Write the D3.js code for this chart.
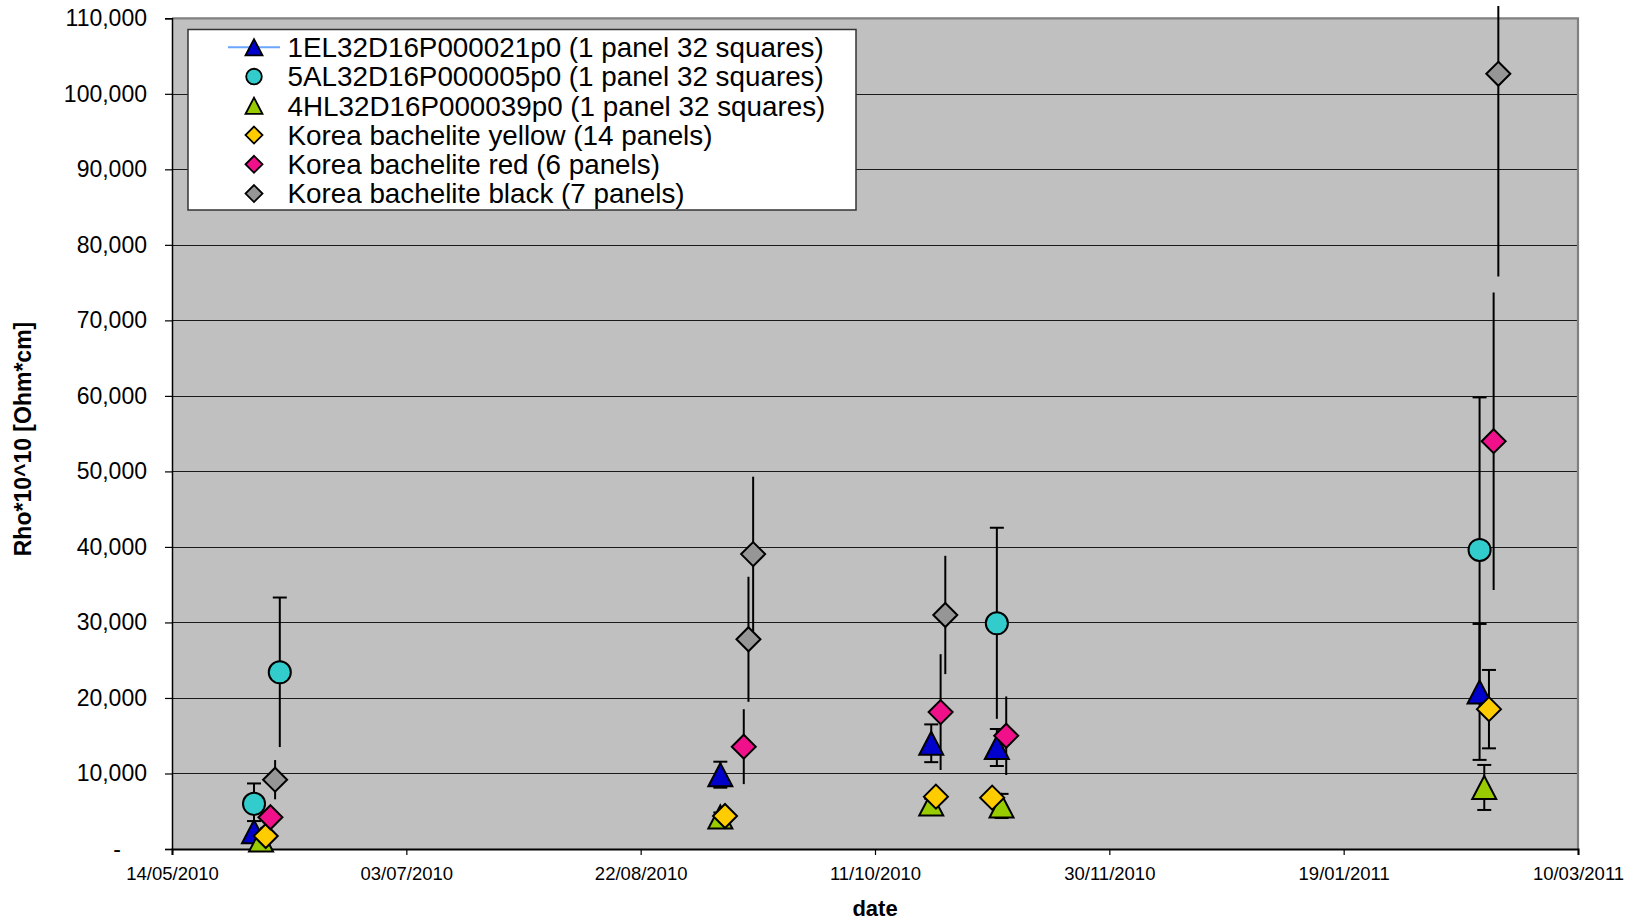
<!DOCTYPE html>
<html>
<head>
<meta charset="utf-8">
<script src="https://cdn.jsdelivr.net/npm/d3@7"></script>
<style>
  html, body { margin: 0; padding: 0; background: #fff; }
  svg { display: block; font-family: "Liberation Sans", Arial, sans-serif; }
</style>
</head>
<body>
<svg id="chart" width="1636" height="921"></svg>
<script>
// ---------------- data ----------------
const seriesNames = [
  "1EL32D16P000021p0 (1 panel 32 squares)",
  "5AL32D16P000005p0 (1 panel 32 squares)",
  "4HL32D16P000039p0 (1 panel 32 squares)",
  "Korea bachelite yellow (14 panels)",
  "Korea bachelite red (6 panels)",
  "Korea bachelite black (7 panels)"
];

const blueDates   = ["2010-05-31T12:00", "2010-09-08", "2010-10-23", "2010-11-06", "2011-02-17"];
const blueValues  = [2300, 9840, 14000, 13440, 20800];
const blueErrors  = [1400, 1720, 2500, 2450, 9000];

const cyanDates   = ["2010-05-31T12:00", "2010-06-06", "2010-11-06", "2011-02-17"];
const cyanValues  = [5980, 23400, 29890, 39600];
const cyanErrors  = [2700, 9900, 12650, 20200];

const greenDates  = ["2010-06-02", "2010-09-08", "2010-10-23", "2010-11-07", "2011-02-18"];
const greenValues = [1200, 4240, 5960, 5700, 8150];
const greenErrors = [500, 600, 700, 1600, 2980];

const yellowDates  = ["2010-06-03", "2010-09-09", "2010-10-24", "2010-11-05", "2011-02-19"];
const yellowValues = [1720, 4370, 6930, 6800, 18520];
const yellowErrors = [500, 600, 700, 700, 5190];

const redDates  = ["2010-06-04", "2010-09-13", "2010-10-25", "2010-11-08", "2011-02-20"];
const redValues = [4200, 13550, 18130, 15000, 54000];
const redErrors = [1000, 4960, 7670, 5200, 19700];

const blackDates  = ["2010-06-05", "2010-09-14", "2010-09-15", "2010-10-26", "2011-02-21"];
const blackValues = [9180, 27770, 39050, 30990, 102650];
const blackErrors = [2600, 8280, 10250, 7830, 26850];

const xTickDates = ["2010-05-14", "2010-07-03", "2010-08-22", "2010-10-11", "2010-11-30", "2011-01-19", "2011-03-10"];
const xTickLabels = ["14/05/2010", "03/07/2010", "22/08/2010", "11/10/2010", "30/11/2010", "19/01/2011", "10/03/2011"];
const yTicks = [0, 10000, 20000, 30000, 40000, 50000, 60000, 70000, 80000, 90000, 100000, 110000];

const yTitle = "Rho*10^10 [Ohm*cm]";
const xTitle = "date";

// ---------------- styles ----------------
const styles = [
  { fill: "#0000CC", shape: "triangle", capTop: true,  capBottom: true,  legendLine: "#6AA6FF" },
  { fill: "#33CCCC", shape: "circle",   capTop: true,  capBottom: false },
  { fill: "#99CC00", shape: "triangle", capTop: true,  capBottom: true },
  { fill: "#FFCC00", shape: "diamond",  capTop: true,  capBottom: true },
  { fill: "#F0108A", shape: "diamond",  capTop: false, capBottom: false },
  { fill: "#969696", shape: "diamond",  capTop: false, capBottom: false }
];

const parse = s => new Date(s.length > 10 ? s + "Z" : s + "T00:00Z");
const build = (dates, vals, errs) => dates.map((d, i) => ({ date: parse(d), value: vals[i], err: errs[i] }));
const series = [
  build(blueDates, blueValues, blueErrors),
  build(cyanDates, cyanValues, cyanErrors),
  build(greenDates, greenValues, greenErrors),
  build(yellowDates, yellowValues, yellowErrors),
  build(redDates, redValues, redErrors),
  build(blackDates, blackValues, blackErrors)
];

// ---------------- layout ----------------
const plot = { left: 172, right: 1578, top: 18.3, bottom: 849 };
const svg = d3.select("#chart");

const x = d3.scaleUtc()
  .domain([parse(xTickDates[0]), parse(xTickDates[xTickDates.length - 1])])
  .range([plot.left, plot.right]);
const y = d3.scaleLinear().domain([0, 110000]).range([plot.bottom, plot.top]);

// background
svg.append("rect")
  .attr("x", plot.left).attr("y", plot.top)
  .attr("width", plot.right - plot.left).attr("height", plot.bottom - plot.top)
  .attr("fill", "#C0C0C0");

// gridlines
svg.append("g").selectAll("line")
  .data(yTicks.filter(v => v > 0 && v < 110000))
  .join("line")
  .attr("x1", plot.left).attr("x2", plot.right)
  .attr("y1", d => Math.round(y(d)) + 0.5).attr("y2", d => Math.round(y(d)) + 0.5)
  .attr("stroke", "#1a1a1a").attr("stroke-width", 1.1);

// top & right border
svg.append("path")
  .attr("d", `M${plot.left},${plot.top}H${plot.right}V${plot.bottom}`)
  .attr("fill", "none").attr("stroke", "#808080").attr("stroke-width", 2.2);

// y axis
const yAxis = d3.axisLeft(y)
  .tickValues(yTicks)
  .tickSize(7)
  .tickPadding(18)
  .tickFormat(d => d === 0 ? "-" : d3.format(",")(d));
const gy = svg.append("g").attr("transform", `translate(${plot.left},0)`).call(yAxis);
gy.select(".domain").attr("stroke", "#000").attr("stroke-width", 1.5);
gy.selectAll(".tick line").attr("stroke", "#000").attr("stroke-width", 1.2);
gy.selectAll(".tick text")
  .attr("font-size", 23).attr("fill", "#000")
  .attr("font-family", "Liberation Sans, Arial, sans-serif")
  .attr("dx", d => d === 0 ? -26 : 0);

// x axis
const xAxis = d3.axisBottom(x)
  .tickValues(xTickDates.map(parse))
  .tickSize(6)
  .tickPadding(12)
  .tickFormat((d, i) => xTickLabels[i]);
const gx = svg.append("g").attr("transform", `translate(0,${plot.bottom})`).call(xAxis);
gx.select(".domain").attr("stroke", "#000").attr("stroke-width", 2);
gx.selectAll(".tick line").attr("stroke", "#000").attr("stroke-width", 1.2);
gx.selectAll(".tick text")
  .attr("font-size", 18.5).attr("fill", "#000")
  .attr("font-family", "Liberation Sans, Arial, sans-serif");

// axis titles
svg.append("text")
  .attr("transform", `translate(${31},${439}) rotate(-90)`)
  .attr("text-anchor", "middle")
  .attr("font-size", 23).attr("font-weight", "bold")
  .text(yTitle);
svg.append("text")
  .attr("x", (plot.left + plot.right) / 2).attr("y", 915.5)
  .attr("text-anchor", "middle")
  .attr("font-size", 22).attr("font-weight", "bold")
  .text(xTitle);

// clip for marks
svg.append("clipPath").attr("id", "clip")
  .append("rect").attr("x", 0).attr("y", 6).attr("width", 1636).attr("height", 915);

const marks = svg.append("g").attr("clip-path", "url(#clip)");

// error bars (all series first)
const capW = 7;
series.forEach((data, si) => {
  const st = styles[si];
  const g = marks.append("g");
  data.forEach(d => {
    const cx = x(d.date);
    const yt = y(d.value + d.err), yb = y(d.value - d.err);
    g.append("line").attr("x1", cx).attr("x2", cx).attr("y1", yt).attr("y2", yb)
      .attr("stroke", "#000").attr("stroke-width", 2);
    if (st.capTop) g.append("line").attr("x1", cx - capW).attr("x2", cx + capW)
      .attr("y1", yt).attr("y2", yt).attr("stroke", "#000").attr("stroke-width", 2);
    if (st.capBottom) g.append("line").attr("x1", cx - capW).attr("x2", cx + capW)
      .attr("y1", yb).attr("y2", yb).attr("stroke", "#000").attr("stroke-width", 2);
  });
});

function shapePath(shape, s) {
  if (shape === "triangle") return `M0,${-s * 0.96}L${s},${s * 0.96}L${-s},${s * 0.96}Z`;
  if (shape === "diamond") return `M0,${-s}L${s},0L0,${s}L${-s},0Z`;
  return null;
}
function drawMarker(g, st, cx, cy, s, sw) {
  if (st.shape === "circle") {
    g.append("circle").attr("cx", cx).attr("cy", cy).attr("r", s * 0.92)
      .attr("fill", st.fill).attr("stroke", "#000").attr("stroke-width", sw);
  } else {
    g.append("path").attr("d", shapePath(st.shape, s))
      .attr("transform", `translate(${cx},${cy})`)
      .attr("fill", st.fill).attr("stroke", "#000").attr("stroke-width", sw)
      .attr("stroke-linejoin", "miter");
  }
}

// markers
series.forEach((data, si) => {
  const g = marks.append("g");
  data.forEach(d => drawMarker(g, styles[si], x(d.date), y(d.value), 12, 2));
});

// legend
const lg = svg.append("g");
lg.append("rect")
  .attr("x", 188).attr("y", 29.5).attr("width", 668).attr("height", 180.5)
  .attr("fill", "#fff").attr("stroke", "#333").attr("stroke-width", 1.5);
seriesNames.forEach((name, i) => {
  const cy = 47.3 + i * 29.25;
  const st = styles[i];
  if (st.legendLine) {
    lg.append("line").attr("x1", 228).attr("x2", 280).attr("y1", cy).attr("y2", cy)
      .attr("stroke", st.legendLine).attr("stroke-width", 2);
  }
  drawMarker(lg, st, 254, cy, 8.5, 1.8);
  lg.append("text").attr("x", 287.5).attr("y", cy + 9.8)
    .attr("font-size", 27.8).attr("fill", "#000")
    .text(name);
});
</script>
</body>
</html>
